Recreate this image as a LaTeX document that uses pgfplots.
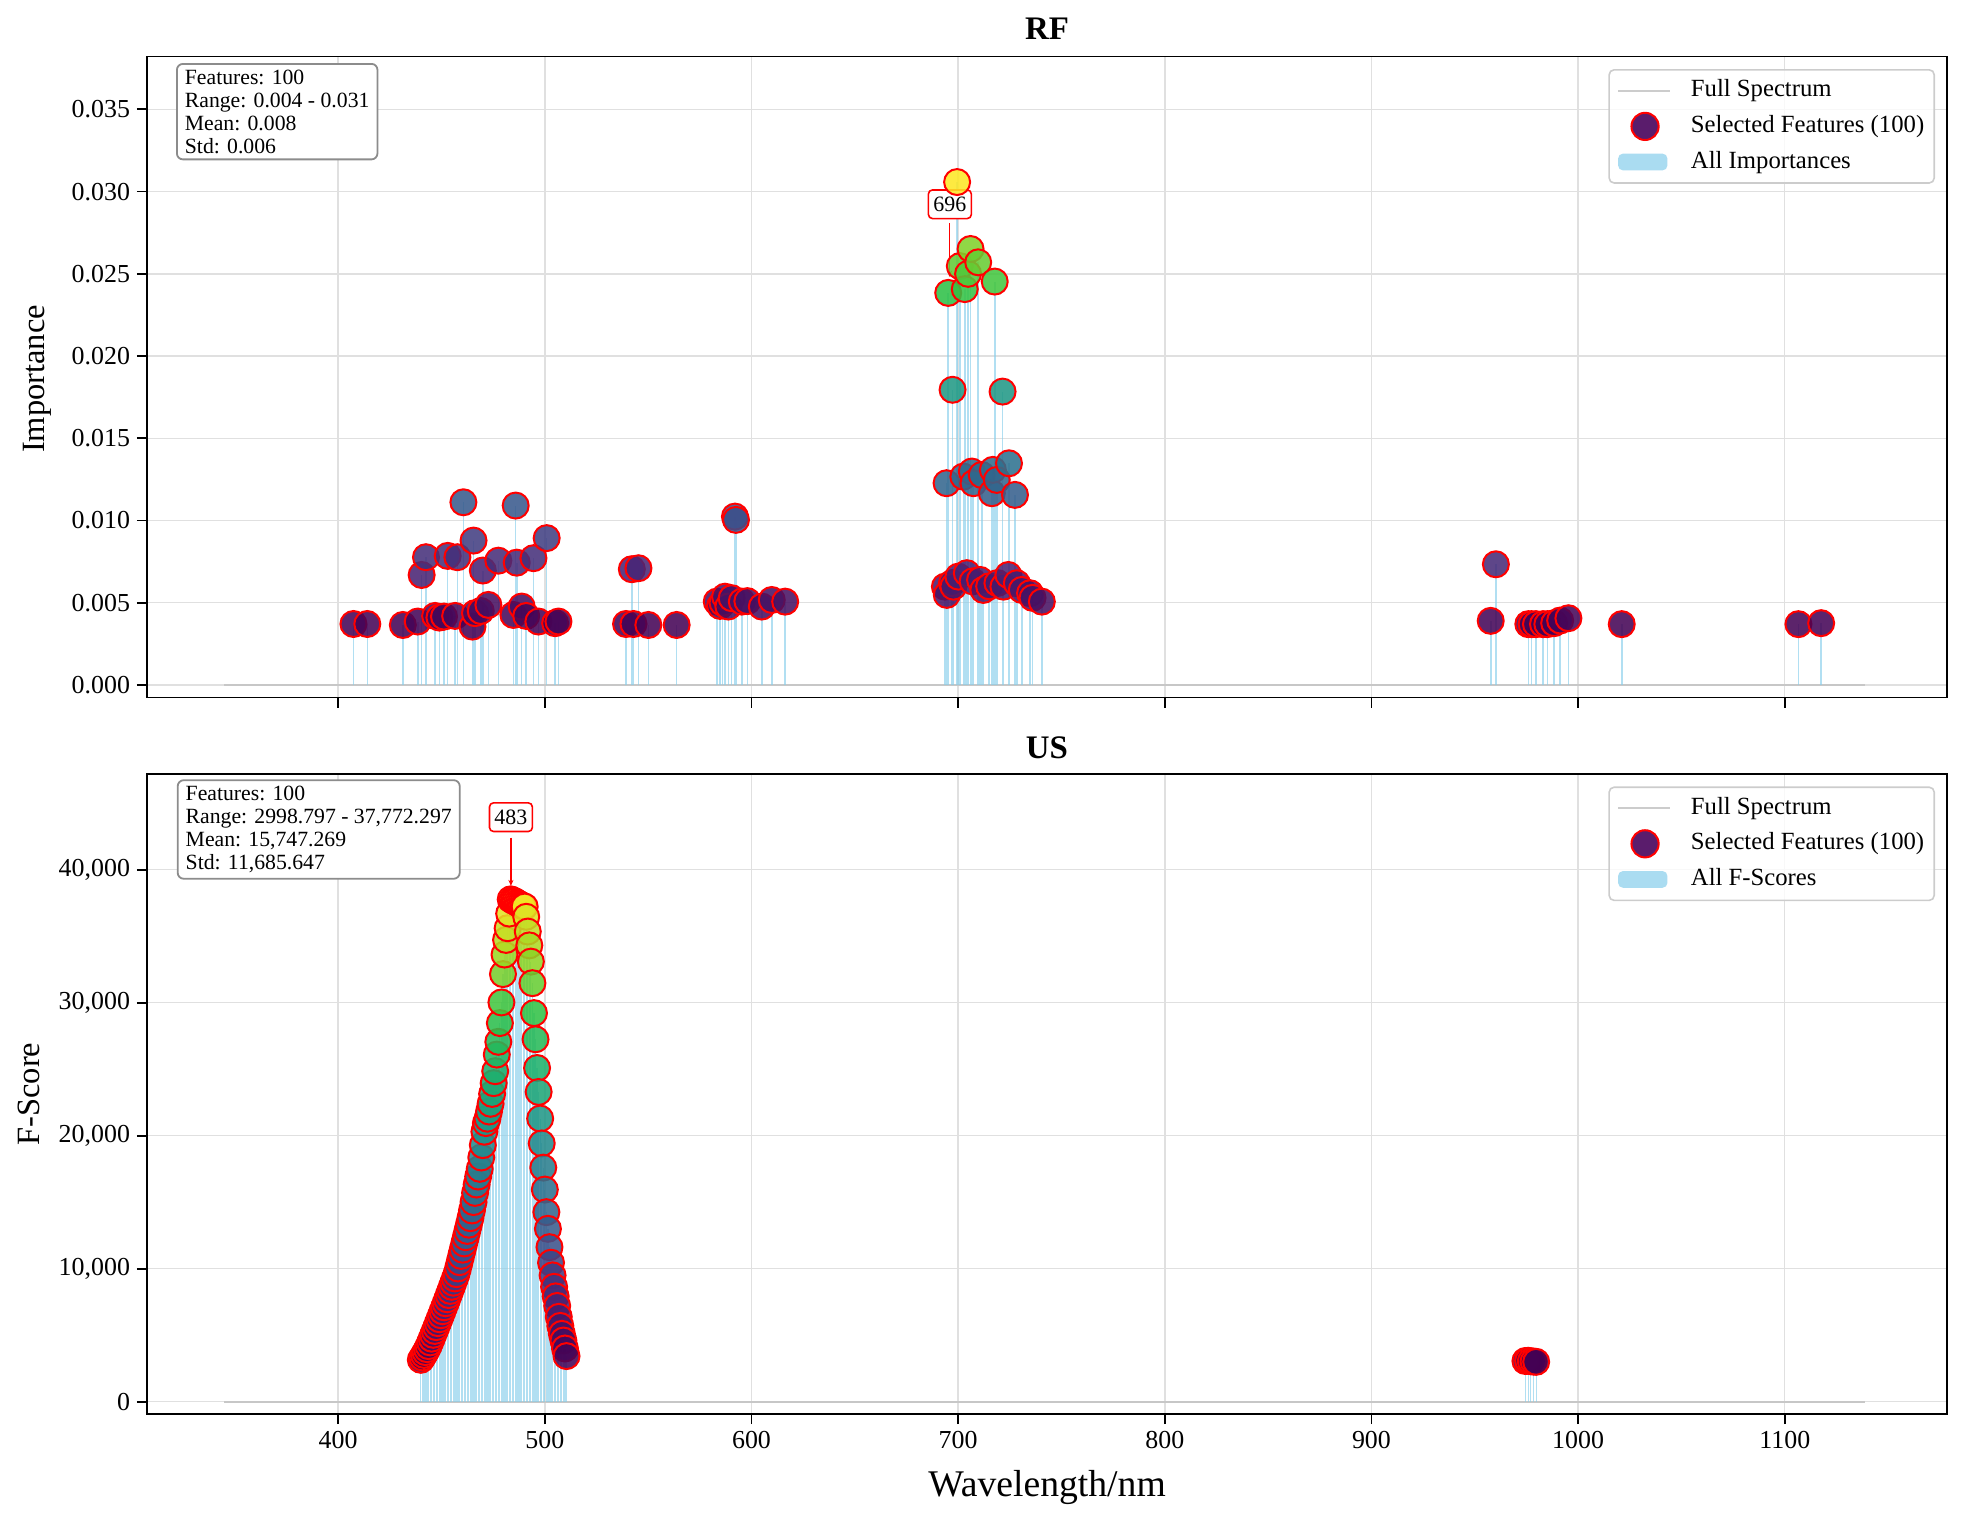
\documentclass[border=0pt]{standalone}
\usepackage{pgfplots}
\pgfplotsset{compat=1.18}
\usepackage{pgfplotstable}
\usepackage{fontspec}
\setmainfont{Liberation Serif}
\usetikzlibrary{arrows.meta}
\definecolor{skyb}{RGB}{135,206,235}
\definecolor{legpurple}{RGB}{90,28,108}
\definecolor{gridc}{RGB}{224,224,224}

\pgfplotstableread{
wl v
407.4 0.00371
414.1 0.00371
431.3 0.00365
438.5 0.00386
440.4 0.00669
442.5 0.00777
446.9 0.00420
449.0 0.00410
451.2 0.00416
453.0 0.00785
456.6 0.00420
457.7 0.00777
460.6 0.01111
465.0 0.00355
465.5 0.00878
466.2 0.00437
469.0 0.00450
470.0 0.00696
472.7 0.00487
477.5 0.00756
484.8 0.00426
485.9 0.01091
486.4 0.00744
488.8 0.00477
491.0 0.00420
494.5 0.00771
496.9 0.00386
500.9 0.00893
505.0 0.00376
506.6 0.00386
539.3 0.00371
542.1 0.00704
542.9 0.00371
545.3 0.00710
550.1 0.00365
563.8 0.00365
583.2 0.00507
584.8 0.00481
586.0 0.00500
587.2 0.00537
588.8 0.00477
590.4 0.00528
592.0 0.01024
592.5 0.01004
595.3 0.00507
598.0 0.00510
605.0 0.00477
609.8 0.00517
616.3 0.00507
693.6 0.00598
694.4 0.01227
694.5 0.00548
695.2 0.02384
697.0 0.00620
697.3 0.01795
697.7 0.00598
699.5 0.03058
700.1 0.00659
700.8 0.02547
702.5 0.01267
703.2 0.02407
704.2 0.00680
704.8 0.02500
706.0 0.02651
706.6 0.01298
707.0 0.00630
707.4 0.01227
709.7 0.02570
710.6 0.00639
711.4 0.01277
712.2 0.00578
715.0 0.00600
716.3 0.01166
716.8 0.01308
717.7 0.02453
718.7 0.01247
719.0 0.00620
721.5 0.01784
721.9 0.00598
724.3 0.00669
724.6 0.01348
727.5 0.01156
728.4 0.00619
730.8 0.00578
734.8 0.00558
736.0 0.00530
740.5 0.00507
957.7 0.00390
960.2 0.00734
975.9 0.00370
977.5 0.00370
979.6 0.00370
983.0 0.00370
985.1 0.00370
988.4 0.00376
991.3 0.00392
995.3 0.00406
1021.1 0.00370
1106.6 0.00370
1117.6 0.00376
}\rfdata

\pgfplotstableread{
wl f
440.00 3150
440.75 3330
441.50 3520
442.25 3730
443.00 3950
443.75 4180
444.50 4460
445.25 4740
446.00 5030
446.75 5320
447.50 5610
448.25 5910
449.00 6200
449.75 6500
450.50 6800
451.25 7100
452.00 7400
452.75 7700
453.50 8020
454.25 8330
455.00 8640
455.75 8950
456.50 9270
457.25 9590
458.00 10020
458.75 10490
459.50 10960
460.25 11430
461.00 11900
461.75 12370
462.50 12840
463.25 13310
464.00 13800
464.75 14380
465.50 15010
466.25 15700
467.00 16330
467.75 16930
468.50 17510
469.25 18360
470.00 19290
470.75 20300
471.50 20950
472.25 21280
473.00 21820
473.75 22400
474.50 23140
475.25 23950
476.00 24850
476.75 26100
477.50 27060
478.25 28470
479.00 30020
479.75 32150
480.50 33620
481.25 34720
482.00 35600
482.75 36700
483.50 37772.297
484.25 37700
485.00 37650
485.75 37600
486.50 37520
487.25 37450
488.00 37380
488.75 37320
489.50 37260
490.25 37230
491.00 36460
491.75 35350
492.50 34310
493.25 33090
494.00 31470
494.75 29220
495.50 27250
496.25 25090
497.00 23290
497.75 21290
498.50 19420
499.25 17600
500.00 15950
500.75 14250
501.50 13000
502.25 11620
503.00 10450
503.75 9500
504.50 8640
505.25 7920
506.00 7200
506.75 6380
507.50 5700
508.25 5100
509.00 4600
509.75 4000
510.50 3430
974.5 3060
975.8 3080
977.1 3040
978.4 3020
979.7 2998.797
}\usdata

\tikzset{
  statbox/.style={anchor=north west, draw=black!45, line width=0.9bp, rounded corners=3bp, fill=white,
    align=left, font=\fontsize{10.9}{11.5}\selectfont, inner xsep=4bp, inner ysep=3bp},
  annbox/.style={draw=red, line width=0.8bp, fill=white, rounded corners=2bp,
    font=\fontsize{11}{13}\selectfont, inner xsep=2.5bp, inner ysep=3.3bp, text height=7.7bp, text depth=0pt},
}

\pgfplotsset{
  colormap={refmap}{rgb255=(68,1,84) rgb255=(72,36,117) rgb255=(59,82,139) rgb255=(44,114,142)
    rgb255=(33,145,140) rgb255=(28,175,110) rgb255=(45,192,70) rgb255=(150,214,35) rgb255=(253,231,37)},
  panel/.style={
    scale only axis, width=900bp,
    xmin=307.5, xmax=1178.5,
    xtick={400,500,600,700,800,900,1000,1100},
    grid=major, major grid style={draw=gridc, line width=0.7bp},
    axis line style={line width=0.85bp},
    tick style={line width=0.85bp, black},
    major tick length=5bp, tick align=outside, tick pos=left,
    scaled ticks=false,
    /pgf/number format/assume math mode=true,
    /pgf/number format/1000 sep={},
    tick label style={font=\fontsize{13}{15}\selectfont},
    colormap name=refmap,
    title style={font=\bfseries\fontsize{16.5}{19}\selectfont, at={(axis description cs:0.5,1)}, anchor=center},
    ylabel style={font=\fontsize{16.3}{19}\selectfont, anchor=center},
    legend cell align=left,
    legend style={at={(rel axis cs:1,1)}, anchor=north east, xshift=-6bp, yshift=-6.2bp,
      draw=black!20, line width=0.8bp, rounded corners=2.5bp, fill=white, fill opacity=0.8, text opacity=1,
      font=\fontsize{12.4}{14}\selectfont, inner xsep=4bp, inner ysep=3.5bp, row sep=3.5bp,
      nodes={text height=9bp, text depth=3bp, inner sep=1bp},
      /tikz/every odd column/.append style={column sep=9bp}},
  },
  stems/.style={ycomb, draw=skyb, draw opacity=0.65, no markers, forget plot},
  feat/.style={scatter, only marks, mark=*, mark size=6.5bp, point meta=y, forget plot,
    scatter/use mapped color={draw=red, fill=mapped color},
    mark options={line width=1bp, fill opacity=0.87}},
  legline/.style={legend image code/.code={\draw[draw=black!20, line width=0.9bp, draw opacity=1] (0bp,0bp) -- (26bp,0bp);}},
  legmark/.style={legend image code/.code={\path[draw=none, fill=none] (0bp,-1bp) rectangle (26bp,1bp);
      \draw[draw=red, line width=1bp, fill=legpurple, fill opacity=1, draw opacity=1] (13.5bp,0bp) circle (6.8bp);}},
  legpatch/.style={legend image code/.code={\fill[draw=none, fill=skyb, fill opacity=0.7] (0bp,-4.2bp) rectangle (24.7bp,4.2bp);}},
}

\begin{document}
\begin{tikzpicture}
\path[use as bounding box] (0,0) rectangle (985.5bp,-760.5bp);

\begin{axis}[panel, at={(73.5bp,-28.3bp)}, anchor=north west, height=320.5bp,
  ymin=-0.000766, ymax=0.038207,
  ytick={0,0.005,0.01,0.015,0.02,0.025,0.03,0.035},
  yticklabel style={/pgf/number format/.cd, fixed, fixed zerofill, precision=3},
  xticklabels={},
  title={RF}, title style={yshift=7.8bp},
  ylabel={Importance}, ylabel style={at={(axis description cs:-0.0612,0.497)}},
]
\addlegendimage{legline}
\addlegendentry{Full Spectrum}
\addlegendimage{legmark}
\addlegendentry{Selected Features (100)}
\addlegendimage{legpatch}
\addlegendentry{All Importances}
\addplot[draw=black!22, line width=1bp, forget plot] coordinates {(345,0) (1139,0)};
\addplot[stems, line width=0.8bp] table[x=wl, y=v] {\rfdata};
\addplot[feat] table[x=wl, y=v] {\rfdata};
\node[statbox, xshift=14.5bp, yshift=-3.2bp] at (rel axis cs:0,1) {Features: 100\\Range: 0.004 - 0.031\\Mean: 0.008\\Std: 0.006};
\node[annbox] at (axis cs:696,0.02923) {696};
\draw[red, line width=0.8bp, -{Stealth[length=3bp, width=2.5bp]}] (axis cs:695.8,0.02808) -- (axis cs:695.8,0.02482);
\end{axis}

\begin{axis}[panel, at={(73.5bp,-387bp)}, anchor=north west, height=320bp,
  ymin=-925, ymax=47195,
  ytick={0,10000,20000,30000,40000},
  yticklabel style={/pgf/number format/.cd, fixed, 1000 sep={,}},
  title={US}, title style={yshift=7.35bp},
  ylabel={F-Score}, ylabel style={at={(axis description cs:-0.0657,0.5)}},
  xlabel={Wavelength/nm}, xlabel style={font=\fontsize{18.9}{22}\selectfont, at={(axis description cs:0.5,-0.1144)}, anchor=center},
]
\addlegendimage{legline}
\addlegendentry{Full Spectrum}
\addlegendimage{legmark}
\addlegendentry{Selected Features (100)}
\addlegendimage{legpatch}
\addlegendentry{All F-Scores}
\addplot[draw=black!22, line width=1bp, forget plot] coordinates {(345,0) (1139,0)};
\addplot[stems, line width=0.6bp] table[x=wl, y=f] {\usdata};
\addplot[feat] table[x=wl, y=f] {\usdata};
\node[statbox, xshift=14.9bp, yshift=-2.65bp] at (rel axis cs:0,1) {Features: 100\\Range: 2998.797 - 37,772.297\\Mean: 15,747.269\\Std: 11,685.647};
\node[annbox] at (axis cs:483.6,43949) {483};
\draw[red, line width=0.8bp, -{Stealth[length=3bp, width=2.5bp]}] (axis cs:483.6,42410) -- (axis cs:483.6,38780);
\end{axis}
\end{tikzpicture}
\end{document}
